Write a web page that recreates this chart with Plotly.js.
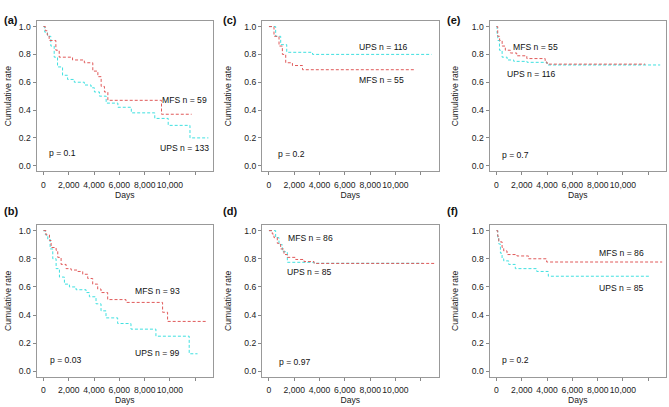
<!DOCTYPE html>
<html>
<head>
<meta charset="utf-8">
<script src="https://cdn.plot.ly/plotly-3.0.1.min.js"></script>
<style>
  body { margin: 0; background: #fff; }
  #chart { width: 669px; height: 407px; }
</style>
</head>
<body>
<div id="chart"></div>
<script>
// Kaplan-Meier step data (days, cumulative rate)
var aMfsDays = [0, 150, 300, 450, 980, 1245, 2300, 3230, 3900, 4300, 4560, 4820, 5090, 9330, 11710];
var aMfsRate = [1.0, 0.97, 0.94, 0.90, 0.83, 0.78, 0.76, 0.74, 0.68, 0.64, 0.57, 0.53, 0.47, 0.37, 0.37];
var aUpsDays = [0, 100, 318, 583, 848, 1113, 1510, 1908, 2438, 3233, 3763, 4028, 4425, 4955, 5883, 6943, 8798, 9858, 11580, 13038];
var aUpsRate = [1.0, 0.96, 0.93, 0.86, 0.78, 0.71, 0.65, 0.62, 0.60, 0.58, 0.56, 0.53, 0.50, 0.45, 0.42, 0.38, 0.34, 0.29, 0.20, 0.20];

var bMfsDays = [0, 200, 473, 605, 1000, 1130, 1394, 1788, 2183, 2709, 3103, 3498, 3892, 4287, 4550, 5076, 6522, 9415, 9810, 12966];
var bMfsRate = [1.0, 0.97, 0.93, 0.88, 0.86, 0.81, 0.76, 0.73, 0.72, 0.71, 0.69, 0.66, 0.62, 0.585, 0.56, 0.51, 0.49, 0.42, 0.355, 0.355];
var bUpsDays = [0, 150, 342, 526, 736, 1000, 1262, 1657, 2051, 2577, 3366, 3629, 4155, 4550, 4944, 5865, 6917, 8889, 11519, 12177];
var bUpsRate = [1.0, 0.97, 0.94, 0.87, 0.80, 0.73, 0.67, 0.62, 0.60, 0.58, 0.56, 0.53, 0.48, 0.43, 0.38, 0.34, 0.30, 0.25, 0.125, 0.125];

var cMfsDays = [0, 398, 795, 1060, 1325, 1855, 2650, 11475];
var cMfsRate = [1.0, 0.93, 0.86, 0.80, 0.74, 0.72, 0.69, 0.69];
var cUpsDays = [0, 530, 928, 1405, 3445, 12850];
var cUpsRate = [1.0, 0.93, 0.87, 0.815, 0.80, 0.80];

var dMfsDays = [0, 260, 396, 660, 924, 1188, 1452, 2112, 2772, 3564, 13068];
var dMfsRate = [1.0, 0.976, 0.95, 0.91, 0.87, 0.83, 0.81, 0.795, 0.78, 0.767, 0.767];
var dUpsDays = [0, 528, 792, 1056, 1452, 3564, 12144];
var dUpsRate = [1.0, 0.95, 0.90, 0.85, 0.775, 0.768, 0.768];

var eMfsDays = [0, 100, 250, 450, 700, 1100, 1600, 2400, 3850, 4000, 11756];
var eMfsRate = [1.0, 0.93, 0.90, 0.86, 0.83, 0.81, 0.79, 0.77, 0.745, 0.73, 0.73];
var eUpsDays = [0, 50, 105, 237, 447, 842, 1368, 2420, 3998, 12940];
var eUpsRate = [1.0, 0.95, 0.90, 0.83, 0.78, 0.76, 0.75, 0.743, 0.724, 0.724];

var fMfsDays = [0, 100, 183, 444, 574, 835, 1618, 2532, 3967, 13100];
var fMfsRate = [1.0, 0.96, 0.92, 0.88, 0.856, 0.83, 0.82, 0.80, 0.777, 0.777];
var fUpsDays = [0, 100, 183, 313, 444, 574, 966, 1488, 3184, 4098, 12058];
var fUpsRate = [1.0, 0.95, 0.905, 0.84, 0.80, 0.785, 0.76, 0.73, 0.71, 0.676, 0.676];

var panelLetters = ["(a)", "(c)", "(e)", "(b)", "(d)", "(f)"];
var pValues = ["p = 0.1", "p = 0.2", "p = 0.7", "p = 0.03", "p = 0.97", "p = 0.2"];
var mfsLabels = ["MFS n = 59", "MFS n = 55", "MFS n = 55", "MFS n = 93", "MFS n = 86", "MFS n = 86"];
var upsLabels = ["UPS n = 133", "UPS n = 116", "UPS n = 116", "UPS n = 99", "UPS n = 85", "UPS n = 85"];
// label anchor positions in data coords [day, rate]
var mfsLabelPos = [[11180, 0.47], [8904, 0.616], [3103, 0.85], [9047, 0.57], [3274, 0.945], [9866, 0.844]];
var upsLabelPos = [[11180, 0.13], [9090, 0.85], [2762, 0.657], [8968, 0.13], [3168, 0.707], [9840, 0.592]];
var pPos = [[318, 0.09], [530, 0.084], [316, 0.077], [342, 0.083], [660, 0.065], [313, 0.082]];

var xTickVals = [0, 2000, 4000, 6000, 8000, 10000, 12000];
var xTickText = ["0", "2,000", "4,000", "6,000", "8,000", "10,000", ""];
var yTickVals = [0, 0.2, 0.4, 0.6, 0.8, 1.0];

var allMfs = [[aMfsDays, aMfsRate], [cMfsDays, cMfsRate], [eMfsDays, eMfsRate], [bMfsDays, bMfsRate], [dMfsDays, dMfsRate], [fMfsDays, fMfsRate]];
var allUps = [[aUpsDays, aUpsRate], [cUpsDays, cUpsRate], [eUpsDays, eUpsRate], [bUpsDays, bUpsRate], [dUpsDays, dUpsRate], [fUpsDays, fUpsRate]];

var W = 669, H = 407;
var colPx = [[36.5, 213], [262, 438.5], [489.5, 666]];
var rowPx = [[21, 171.3], [225, 377]];
var yTitlePx = [8, 228, 455];
var letterPx = [2, 221, 445];
var fontName = "Liberation Sans, Arial, sans-serif";
var fs = 8.6;
var red = "#e05a5a", cyan = "#3fe0e0";

var data = [];
var layout = {
  width: W, height: H,
  margin: {l: 0, r: 0, t: 0, b: 0},
  paper_bgcolor: "#fff", plot_bgcolor: "#fff",
  showlegend: false,
  font: {family: fontName, size: fs, color: "#222"},
  annotations: []
};

for (var k = 0; k < 6; k++) {
  var col = k % 3, row = Math.floor(k / 3);
  var n = k + 1;
  var xa = "x" + (n === 1 ? "" : n), ya = "y" + (n === 1 ? "" : n);
  var cp = colPx[col], rp = rowPx[row];

  data.push({x: allUps[k][0], y: allUps[k][1], xaxis: xa, yaxis: ya, mode: "lines",
    line: {shape: "hv", color: cyan, width: 1, dash: "3px,2px"}, hoverinfo: "skip"});
  data.push({x: allMfs[k][0], y: allMfs[k][1], xaxis: xa, yaxis: ya, mode: "lines",
    line: {shape: "hv", color: red, width: 1, dash: "3px,2px"}, hoverinfo: "skip"});

  layout["xaxis" + (n === 1 ? "" : n)] = {
    domain: [cp[0] / W, cp[1] / W], anchor: ya, range: [-550, 13400],
    tickvals: xTickVals, ticktext: xTickText, tickangle: 0, ticks: "outside", ticklen: 3, tickcolor: "#888",
    showline: true, mirror: true, linecolor: "#999", linewidth: 1, showgrid: false, zeroline: false,
    tickfont: {size: fs, color: "#222"}, ticklabelstandoff: 2, fixedrange: true,
    title: {text: "Days", font: {size: fs, color: "#222"}, standoff: 1}
  };
  layout["yaxis" + (n === 1 ? "" : n)] = {
    domain: [1 - rp[1] / H, 1 - rp[0] / H], anchor: xa, range: [-0.04, 1.04],
    tickvals: yTickVals, tickformat: ".1f", ticks: "outside", ticklen: 3, tickcolor: "#888",
    showline: true, mirror: true, linecolor: "#999", linewidth: 1, showgrid: false, zeroline: false,
    tickfont: {size: fs, color: "#222"}, fixedrange: true
  };

  var ann = layout.annotations;
  ann.push({text: mfsLabels[k], x: mfsLabelPos[k][0], y: mfsLabelPos[k][1], xref: xa, yref: ya, xanchor: "center", showarrow: false, font: {size: fs, color: "#111"}});
  ann.push({text: upsLabels[k], x: upsLabelPos[k][0], y: upsLabelPos[k][1], xref: xa, yref: ya, xanchor: "center", showarrow: false, font: {size: fs, color: "#111"}});
  ann.push({text: pValues[k], x: pPos[k][0], y: pPos[k][1], xref: xa, yref: ya, xanchor: "left", showarrow: false, font: {size: fs, color: "#111"}});
  // y axis title
  ann.push({text: "Cumulative rate", x: yTitlePx[col] / W, y: 1 - (rp[0] + rp[1]) / 2 / H, xref: "paper", yref: "paper",
    xanchor: "center", yanchor: "middle", textangle: -90, showarrow: false, font: {size: fs, color: "#222"}});
  // panel letter
  ann.push({text: "<b>" + panelLetters[k] + "</b>", x: letterPx[col] / W, y: 1 - (row === 0 ? 12 : 211) / H,
    xref: "paper", yref: "paper", xanchor: "left", showarrow: false, font: {size: 11, color: "#111"}});
}

Plotly.newPlot("chart", data, layout, {displayModeBar: false, staticPlot: true});
</script>
</body>
</html>
